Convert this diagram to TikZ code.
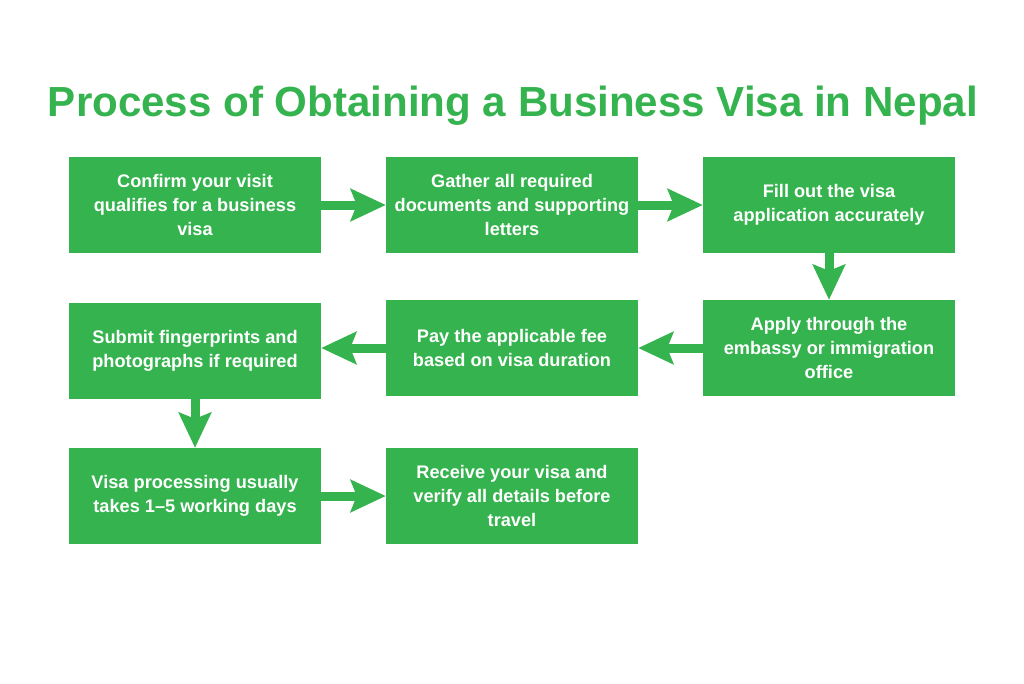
\documentclass[tikz,border=0pt]{standalone}
\usepackage{fontspec}
\setmainfont{Liberation Sans}
\usetikzlibrary{arrows.meta}
\definecolor{vgreen}{RGB}{53,179,78}
\tikzset{
  stepbox/.style={fill=vgreen, draw=none, minimum width=252pt, minimum height=96pt,
    inner sep=0pt, align=center, text=white, font=\fontsize{18.2}{24}\selectfont\bfseries},
  flow/.style={draw=vgreen, line width=9pt,
    -{Stealth[length=35pt, width=32pt, inset=6pt, fill=vgreen]}}
}
\begin{document}
\begin{tikzpicture}[x=1pt,y=-1pt]
\useasboundingbox (0,0) rectangle (1024,683);
\fill[white] (0,0) rectangle (1024,683);
\node[text=vgreen, inner sep=0pt] (title) at (513,106)
  {\resizebox{930pt}{!}{\bfseries\fontsize{36}{40}\selectfont Process of Obtaining a Business Visa in Nepal}};
\node[stepbox] (s1) at (195,205) {Confirm your visit\\qualifies for a business\\visa};
\node[stepbox] (s2) at (512,205) {Gather all required\\documents and supporting\\letters};
\node[stepbox] (s3) at (829,205) {Fill out the visa\\application accurately};
\node[stepbox] (s4) at (829,348) {Apply through the\\embassy or immigration\\office};
\node[stepbox] (s5) at (512,348) {Pay the applicable fee\\based on visa duration};
\node[stepbox] (s6) at (195,351) {Submit fingerprints and\\photographs if required};
\node[stepbox] (s7) at (195,496) {Visa processing usually\\takes 1–5 working days};
\node[stepbox] (s8) at (512,496) {Receive your visa and\\verify all details before\\travel};
\draw[flow] (s1.east) -- (s2.west);
\draw[flow] (s2.east) -- (s3.west);
\draw[flow] (s3.south) -- (s4.north);
\draw[flow] (s4.west) -- (s5.west -| s5.east);
\draw[flow] (s5.west) -- (s5.west -| s6.east);
\draw[flow] (s6.south) -- (s7.north);
\draw[flow] (s7.east) -- (s8.west);
\end{tikzpicture}
\end{document}
